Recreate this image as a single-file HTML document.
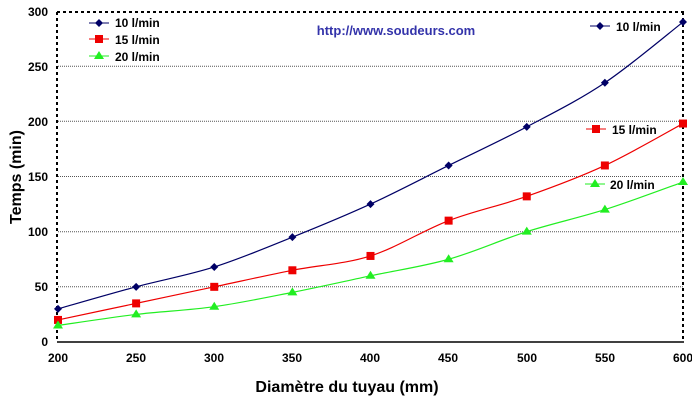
<!DOCTYPE html>
<html><head><meta charset="utf-8"><style>
html,body{margin:0;padding:0;background:#fff;}
svg{display:block;font-family:"Liberation Sans",Arial,sans-serif;}
</style></head><body>
<svg id="s" width="692" height="408" viewBox="0 0 692 408" xmlns="http://www.w3.org/2000/svg">
<rect width="692" height="408" fill="#fff"/>
<g stroke="#555" stroke-width="1" stroke-dasharray="1,1">
<line x1="58" x2="683" y1="66.2" y2="66.2"/>
<line x1="58" x2="683" y1="121.3" y2="121.3"/>
<line x1="58" x2="683" y1="176.5" y2="176.5"/>
<line x1="58" x2="683" y1="231.7" y2="231.7"/>
<line x1="58" x2="683" y1="286.8" y2="286.8"/>
</g>
<g stroke="#000" stroke-width="2" stroke-dasharray="3,3" fill="none">
<line x1="57" x2="684" y1="12" y2="12"/>
<line x1="57" x2="57" y1="12" y2="342"/>
<line x1="683" x2="683" y1="12" y2="342"/>
</g>
<line x1="57" x2="684" y1="342" y2="342" stroke="#000" stroke-width="1.5"/>
<g font-size="12" font-weight="bold" fill="#000" text-anchor="end">
<text x="48" y="16">300</text><text x="48" y="71">250</text><text x="48" y="126">200</text>
<text x="48" y="181">150</text><text x="48" y="236">100</text><text x="48" y="291">50</text><text x="48" y="346">0</text>
</g>
<g font-size="12" font-weight="bold" fill="#000" text-anchor="middle">
<text x="58" y="362">200</text><text x="136" y="362">250</text><text x="214" y="362">300</text>
<text x="292" y="362">350</text><text x="370" y="362">400</text><text x="448" y="362">450</text>
<text x="527" y="362">500</text><text x="605" y="362">550</text><text x="683" y="362">600</text>
</g>
<text x="347" y="392" font-size="16" font-weight="bold" text-anchor="middle">Diamètre du tuyau (mm)</text>
<text transform="translate(21,177) rotate(-90)" font-size="16" font-weight="bold" text-anchor="middle">Temps (min)</text>
<text x="396" y="35" font-size="13" font-weight="bold" fill="#3333aa" text-anchor="middle">http://www.soudeurs.com</text>
<g id="series"></g>
<!-- legends -->
<g font-size="12" font-weight="bold" fill="#000">
<line x1="89" x2="109" y1="23" y2="23" stroke="#000066"/><path d="M99 19 L103 23 L99 27 L95 23Z" fill="#000066"/>
<text x="115" y="27">10 l/min</text>
<line x1="89" x2="109" y1="39" y2="39" stroke="#e00"/><rect x="95" y="35" width="8" height="8" fill="#e00"/>
<text x="115" y="44">15 l/min</text>
<line x1="89" x2="109" y1="56" y2="56" stroke="#2e2"/><path d="M99 51 L104 59 L94 59Z" fill="#2e2"/>
<text x="115" y="61">20 l/min</text>
<line x1="590" x2="610" y1="26" y2="26" stroke="#000066"/><path d="M600 22 L604 26 L600 30 L596 26Z" fill="#000066"/>
<text x="616" y="31">10 l/min</text>
<line x1="586" x2="606" y1="129" y2="129" stroke="#e00"/><rect x="592" y="125" width="8" height="8" fill="#e00"/>
<text x="612" y="134">15 l/min</text>
<line x1="585" x2="605" y1="184" y2="184" stroke="#2e2"/><path d="M595 179 L600 187 L590 187Z" fill="#2e2"/>
<text x="610" y="189">20 l/min</text>
</g>
</svg>
<script>
(function(){
var ns="http://www.w3.org/2000/svg",g=document.getElementById("series");
function X(i){return 58+i*78.125;}function Y(v){return 342-v*1.1033;}
var data=[[[30,50,68,95,125,160,195,235,290],"#000066","d"],
[[20,35,50,65,78,110,132,160,198],"#e00","s"],
[[15,25,32,45,60,75,100,120,145],"#2e2","t"]];
data.forEach(function(s){
var p=s[0].map(function(v,i){return [X(i),Y(v)];});
var d="M"+p[0][0]+" "+p[0][1];
for(var i=0;i<p.length-1;i++){
var p0=p[i-1]||p[i],p1=p[i],p2=p[i+1],p3=p[i+2]||p2;
var c1=[p1[0]+(p2[0]-p0[0])/6,p1[1]+(p2[1]-p0[1])/6],c2=[p2[0]-(p3[0]-p1[0])/6,p2[1]-(p3[1]-p1[1])/6];
d+=" C"+c1+" "+c2+" "+p2;}
var path=document.createElementNS(ns,"path");path.setAttribute("d",d);path.setAttribute("fill","none");
path.setAttribute("stroke",s[1]);path.setAttribute("stroke-width","1.2");g.appendChild(path);
p.forEach(function(q){var m;
if(s[2]=="d"){m=document.createElementNS(ns,"path");m.setAttribute("d","M"+q[0]+" "+(q[1]-4)+" L"+(q[0]+4)+" "+q[1]+" L"+q[0]+" "+(q[1]+4)+" L"+(q[0]-4)+" "+q[1]+"Z");}
else if(s[2]=="s"){m=document.createElementNS(ns,"rect");m.setAttribute("x",q[0]-4);m.setAttribute("y",q[1]-4);m.setAttribute("width",8);m.setAttribute("height",8);}
else{m=document.createElementNS(ns,"path");m.setAttribute("d","M"+q[0]+" "+(q[1]-5)+" L"+(q[0]+5)+" "+(q[1]+3)+" L"+(q[0]-5)+" "+(q[1]+3)+"Z");}
m.setAttribute("fill",s[1]);g.appendChild(m);});
});
})();
</script>
</body></html>
